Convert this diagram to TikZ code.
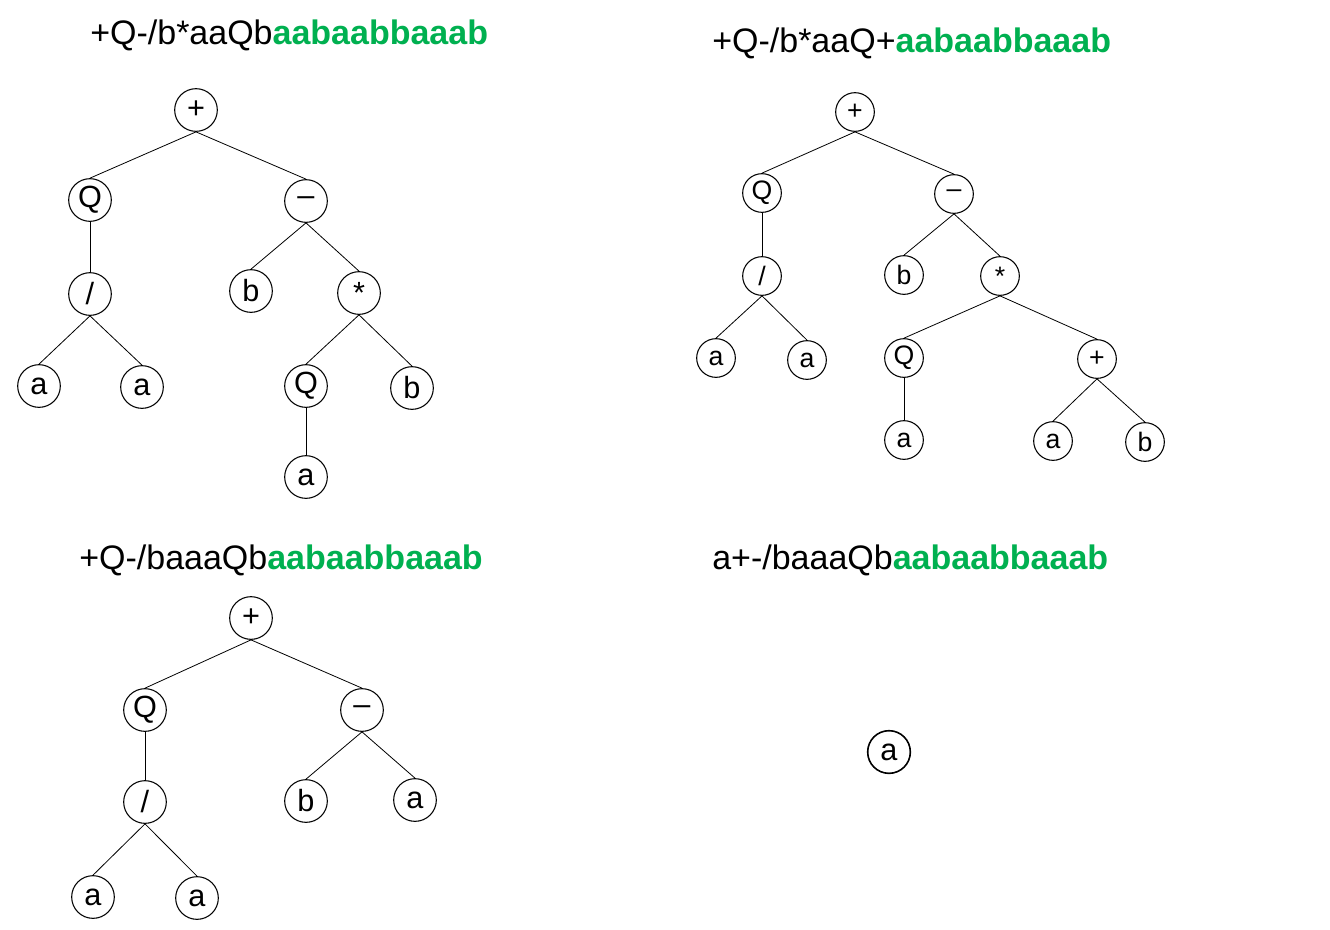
\documentclass[tikz,border=0pt]{standalone}
\usepackage{fontspec}
\setmainfont{Liberation Sans}
\definecolor{termgreen}{RGB}{0,176,80}

\begin{document}
\begin{tikzpicture}[
        %We set the scale and define some styles
        x=0.75pt, y=-0.75pt,
        vertex/.style={circle, draw, thick, minimum size=32pt, inner sep=0pt, font=\fontsize{23}{24}\selectfont},
        small vertex/.style={vertex, minimum size=29pt, font=\fontsize{20}{21}\selectfont},
        edge/.style={semithick},
        title/.style={anchor=west, inner sep=0pt, font=\fontsize{25.5}{28}\selectfont},
        every node/.style={color=black,},
]
    \useasboundingbox (0,0) rectangle (1330,929);

    % Titles
    \node[title] (t1) at (90,35) {+Q-/b*aaQb\textcolor{termgreen}{\textbf{aabaabbaaab}}};
    \node[title] (t2) at (712,43) {+Q-/b*aaQ+\textcolor{termgreen}{\textbf{aabaabbaaab}}};
    \node[title] (t3) at (79,560) {+Q-/baaaQb\textcolor{termgreen}{\textbf{aabaabbaaab}}};
    \node[title] (t4) at (712,560) {a+-/baaaQb\textcolor{termgreen}{\textbf{aabaabbaaab}}};

    % first tree
    \node[vertex] (Aplus) at (196,110) {+};
    \node[vertex] (AQ) at (90,200) {Q};
    \node[vertex] (Aminus) at (306,201) {\textendash};
    \node[vertex] (Adiv) at (90,294) {/};
    \node[vertex] (Ab) at (251,291) {b};
    \node[vertex] (Amul) at (359,293) {*};
    \node[vertex] (Aa1) at (39,386) {a};
    \node[vertex] (Aa2) at (142,387) {a};
    \node[vertex] (AQ2) at (306,386) {Q};
    \node[vertex] (Ab2) at (412,388) {b};
    \node[vertex] (Aa3) at (306,477) {a};
    \foreach \p/\c in {Aplus/AQ,Aplus/Aminus,AQ/Adiv,Aminus/Ab,Aminus/Amul,Adiv/Aa1,Adiv/Aa2,Amul/AQ2,Amul/Ab2,AQ2/Aa3}
        \draw[edge] (\p.south) -- (\c.north);

    % second tree
    \node[small vertex] (Bplus) at (855,112) {+};
    \node[small vertex] (BQ) at (762,193) {Q};
    \node[small vertex] (Bminus) at (954,194) {\textendash};
    \node[small vertex] (Bdiv) at (762,276) {/};
    \node[small vertex] (Bb) at (904,275) {b};
    \node[small vertex] (Bmul) at (1000,276) {*};
    \node[small vertex] (Ba1) at (716,358) {a};
    \node[small vertex] (Ba2) at (807,360) {a};
    \node[small vertex] (BQ2) at (904,358) {Q};
    \node[small vertex] (Bplus2) at (1097,359) {+};
    \node[small vertex] (Ba3) at (904,440) {a};
    \node[small vertex] (Ba4) at (1053,441) {a};
    \node[small vertex] (Bb2) at (1145,442) {b};
    \foreach \p/\c in {Bplus/BQ,Bplus/Bminus,BQ/Bdiv,Bminus/Bb,Bminus/Bmul,Bdiv/Ba1,Bdiv/Ba2,Bmul/BQ2,Bmul/Bplus2,BQ2/Ba3,Bplus2/Ba4,Bplus2/Bb2}
        \draw[edge] (\p.south) -- (\c.north);

    % third tree
    \node[vertex] (Cplus) at (251,618) {+};
    \node[vertex] (CQ) at (145,710) {Q};
    \node[vertex] (Cminus) at (362,710) {\textendash};
    \node[vertex] (Cdiv) at (145,802) {/};
    \node[vertex] (Cb) at (306,801) {b};
    \node[vertex] (Ca) at (415,800) {a};
    \node[vertex] (Ca1) at (93,897) {a};
    \node[vertex] (Ca2) at (197,898) {a};
    \foreach \p/\c in {Cplus/CQ,Cplus/Cminus,CQ/Cdiv,Cminus/Cb,Cminus/Ca,Cdiv/Ca1,Cdiv/Ca2}
        \draw[edge] (\p.south) -- (\c.north);

    % fourth tree
    \node[vertex, very thick] (Da) at (889,752) {a};
\end{tikzpicture}
\end{document}
